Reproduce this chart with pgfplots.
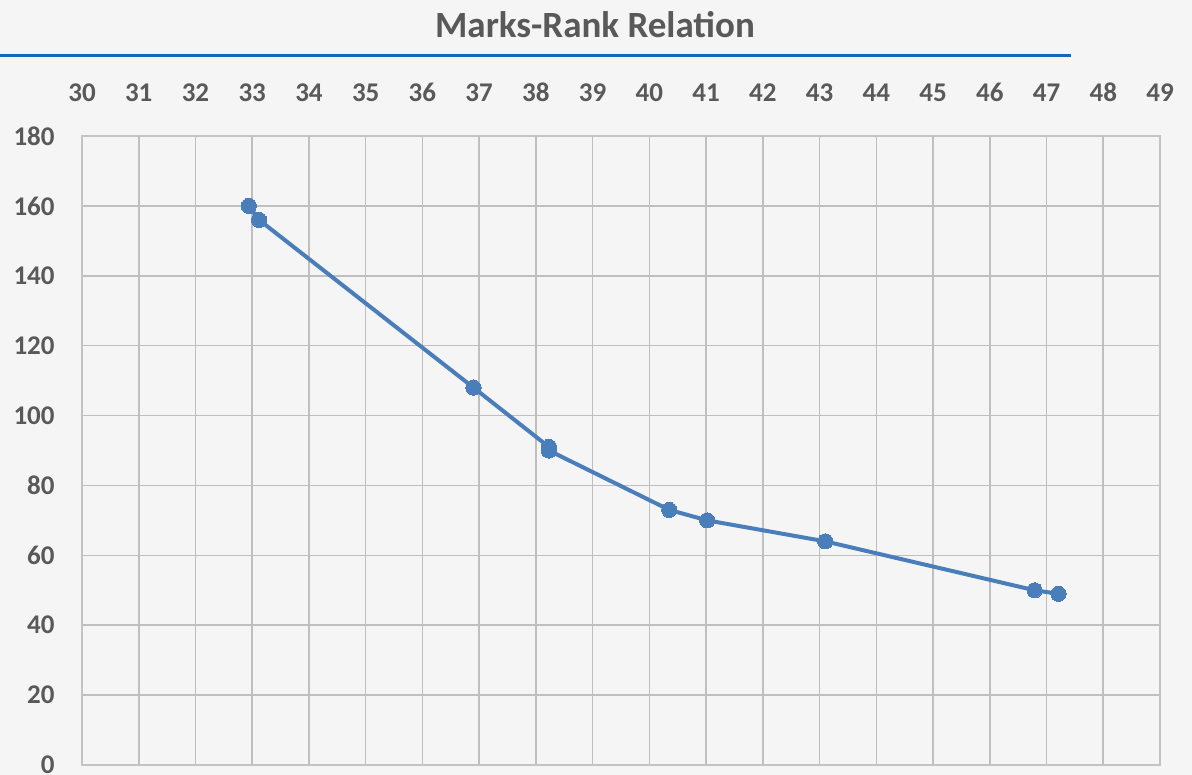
\documentclass[border=0pt]{standalone}
\usepackage{fontspec}
\setmainfont{Carlito}
\usepackage{pgfplots}
\pgfplotsset{compat=1.18}
\definecolor{bg}{HTML}{F5F5F5}
\definecolor{txt}{HTML}{595959}
\definecolor{grid}{HTML}{DDDDDD}
\definecolor{rule}{HTML}{1565C0}
\definecolor{ser}{HTML}{4A7EBB}
\begin{document}
\begin{tikzpicture}
\fill[bg] (-41pt,-5pt) rectangle (555pt,382.5pt);
\useasboundingbox (-41pt,-5pt) rectangle (555pt,382.5pt);
\node[text=txt, font=\fontsize{18.5pt}{22pt}\selectfont\bfseries] at (256.5pt,370pt) {Marks-Rank Relation};
\draw[rule, line width=1.5pt] (-41pt,354.5pt) -- (494.5pt,354.5pt);
\begin{axis}[
  at={(0pt,0pt)}, anchor=south west,
  scale only axis, width=539pt, height=314.5pt,
  xmin=30, xmax=49, ymin=0, ymax=180,
  xtick={30,31,...,49}, ytick={0,20,...,180},
  xticklabel pos=right,
  grid=major, grid style={grid, line width=0.8pt},
  axis line style={grid!88!black, line width=0.8pt},
  major tick length=0pt,
  tick label style={text=txt, font=\fontsize{13.5pt}{16pt}\selectfont\bfseries, inner sep=0pt},
  xticklabel style={anchor=base, yshift=17.1pt},
  yticklabel style={anchor=east, xshift=-13.5pt},
  /pgf/number format/assume math mode=true,
  axis background/.style={fill=bg},
]
\addplot[ser, line width=2pt, mark=*, mark size=3.8pt, mark options={fill=ser, draw=ser, line width=0pt}]
coordinates {
(32.94,160) (33.12,156) (36.90,108) (38.23,91) (38.23,90) (40.35,73) (41.02,70) (43.10,64) (46.79,50) (47.21,49)
};
\end{axis}
\end{tikzpicture}
\end{document}
